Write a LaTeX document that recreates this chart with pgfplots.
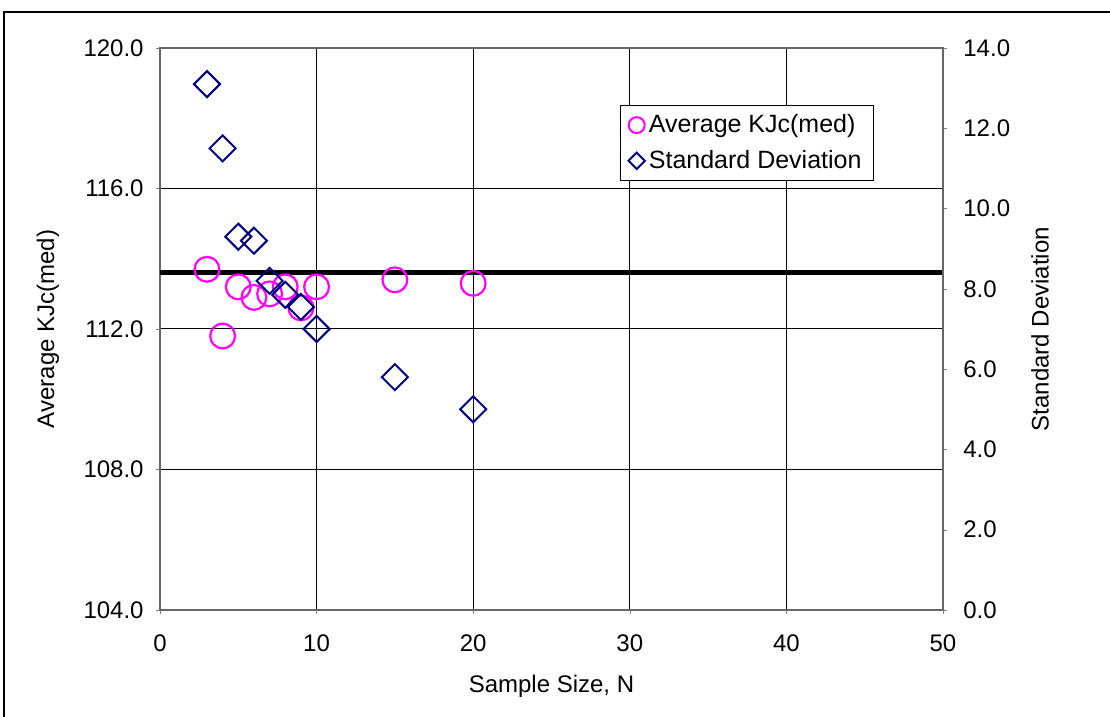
\documentclass[border=0pt]{standalone}
\usepackage{fontspec}
\setmainfont{Liberation Sans}
\usepackage{pgfplots}
\pgfplotsset{compat=1.18}
\definecolor{mag}{RGB}{255,0,255}
\definecolor{navyb}{RGB}{0,0,128}
\pgfplotstableread{
x y
3 113.7
4 111.8
5 113.2
6 112.9
7 113.0
8 113.2
9 112.6
10 113.2
15 113.4
20 113.3
}\avgtab
\pgfplotstableread{
x y
3 13.1
4 11.5
5 9.3
6 9.2
7 8.2
8 7.85
9 7.55
10 7.0
15 5.8
20 5.0
}\sdtab
\begin{document}
\fontsize{12}{14}\selectfont
\begin{tikzpicture}
\useasboundingbox (-80pt,-53.5pt) rectangle (475pt,305pt);
\draw[line width=1pt] (-78pt,-90pt) rectangle (520pt,299pt);
\begin{axis}[
  at={(0,0)}, anchor=south west,
  scale only axis, width=391.5pt, height=281pt,
  xmin=0, xmax=50, ymin=104, ymax=120,
  xtick={0,10,...,50}, ytick={104,108,...,120},
  tick pos=left, tick align=outside, major tick length=2pt,
  grid=major, major grid style={black, line width=0.5pt},
  axis line style={gray!80!black, line width=0.8pt},
  /pgf/number format/assume math mode=true,
  yticklabel style={/pgf/number format/fixed, /pgf/number format/fixed zerofill, /pgf/number format/precision=1, xshift=-2pt},
  xticklabel style={yshift=-6pt},
  xlabel={Sample Size, N},
  ylabel={Average KJc(med)},
  xlabel style={at={(axis description cs:0.5,-0.135)}, anchor=center},
  ylabel style={at={(axis description cs:-0.143,0.5)}, anchor=center},
]
\addplot[black, line width=2.3pt] coordinates {(0,113.6) (50,113.6)};
\addplot[only marks, mark=o, mark size=6.2pt, mark options={line width=1.1pt, draw=mag}] table[x=x,y=y] {\avgtab};
\end{axis}
\begin{axis}[
  at={(0,0)}, anchor=south west,
  scale only axis, width=391.5pt, height=281pt,
  xmin=0, xmax=50, ymin=0, ymax=14,
  axis x line=none, axis y line*=right,
  ytick={0,2,...,14},
  tick align=outside, major tick length=2pt,
  axis line style={gray!80!black, line width=0.8pt},
  /pgf/number format/assume math mode=true,
  yticklabel style={/pgf/number format/fixed, /pgf/number format/fixed zerofill, /pgf/number format/precision=1, xshift=4pt},
  ylabel={Standard Deviation},
  ylabel style={at={(axis description cs:1.124,0.5)}, anchor=center},
  legend style={at={(0.5875,0.899)}, anchor=north west, draw=black, line width=0.5pt,
    inner xsep=4pt, inner ysep=2.5pt, row sep=3pt, font=\fontsize{12.5}{14}\selectfont},
  legend cell align=left,
]
\addlegendimage{only marks, mark=o, mark size=4pt, mark options={line width=1pt, draw=mag}}
\addlegendentry{Average KJc(med)}
\addlegendimage{only marks, mark=square, mark size=2.9pt, mark options={rotate=45, line width=1pt, draw=navyb, fill=none}}
\addlegendentry{Standard Deviation}
\addplot[forget plot, only marks, mark=square, mark size=4.6pt, mark options={rotate=45, line width=1pt, draw=navyb, fill=none}] table[x=x,y=y] {\sdtab};
\end{axis}
\end{tikzpicture}
\end{document}
